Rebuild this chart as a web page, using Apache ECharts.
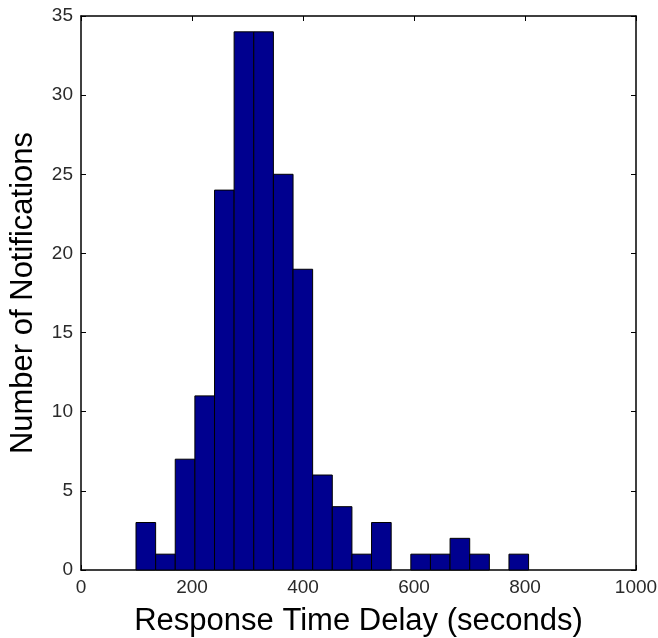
<!DOCTYPE html>
<html><head><meta charset="utf-8">
<script src="https://cdn.jsdelivr.net/npm/echarts@6/dist/echarts.min.js"></script>
<style>html,body{margin:0;padding:0;background:#fff}#c{width:658px;height:638px}</style>
</head><body><div id="c"></div>
<script>
// Histogram bins (seconds) and counts
var binStarts = [99.1,134.5,169.8,205.2,240.6,275.9,311.3,346.7,382.0,417.4,452.8,488.2,523.5,558.9,594.3,629.6,665.0,700.4,735.7,771.1];
var binWidth = 35.37;
var counts = [3,1,7,11,24,34,34,25,19,6,4,1,3,0,1,1,2,1,0,1];
var xTicks = [0,200,400,600,800,1000];
var yTicks = [0,5,10,15,20,25,30,35];

var data = binStarts.map(function(s,i){return [s, s+binWidth, counts[i]];});
var chart = echarts.init(document.getElementById('c'));
var labelFont = {fontFamily:'Liberation Sans, Arial, sans-serif', fontSize:19, color:'#2a2a2a'};
var titleFont = {fontFamily:'Liberation Sans, Arial, sans-serif', fontSize:31, color:'#000'};
chart.setOption({
  animation:false,
  grid:{left:81,right:22,top:16,bottom:68,containLabel:false,outerBoundsMode:'none'},
  xAxis:[{
    type:'value',min:0,max:1000,interval:200,position:'bottom',
    name:'Response Time Delay (seconds)',nameLocation:'middle',nameGap:36,
    nameTextStyle:titleFont,
    axisLine:{show:true,onZero:false,lineStyle:{color:'#000',width:1.5}},
    axisTick:{show:true,inside:true,length:5,lineStyle:{color:'#000'}},
    axisLabel:Object.assign({margin:8,formatter:function(v){return String(v);}},labelFont),
    splitLine:{show:false}
  },{
    type:'value',min:0,max:1000,interval:200,position:'top',
    axisLine:{show:true,onZero:false,lineStyle:{color:'#000',width:1.5}},
    axisTick:{show:true,inside:true,length:5,lineStyle:{color:'#000'}},
    axisLabel:{show:false},splitLine:{show:false}
  }],
  yAxis:[{
    type:'value',min:0,max:35,interval:5,position:'left',
    name:'Number of Notifications',nameLocation:'middle',nameGap:42,nameRotate:90,
    nameTextStyle:titleFont,
    axisLine:{show:true,onZero:false,lineStyle:{color:'#000',width:1.5}},
    axisTick:{show:true,inside:true,length:5,lineStyle:{color:'#000'}},
    axisLabel:Object.assign({margin:8},labelFont),
    splitLine:{show:false}
  },{
    type:'value',min:0,max:35,interval:5,position:'right',
    axisLine:{show:true,onZero:false,lineStyle:{color:'#000',width:1.5}},
    axisTick:{show:true,inside:true,length:5,lineStyle:{color:'#000'}},
    axisLabel:{show:false},splitLine:{show:false}
  }],
  series:[{
    type:'custom',
    xAxisIndex:0,yAxisIndex:0,
    encode:{x:[0,1],y:2},
    data:data,
    renderItem:function(params,api){
      if(api.value(2)<=0) return null;
      var p0 = api.coord([api.value(0), api.value(2)]);
      var p1 = api.coord([api.value(1), 0]);
      return {
        type:'rect',
        shape:{x:p0[0],y:p0[1],width:p1[0]-p0[0],height:p1[1]-p0[1]},
        style:{fill:'#00008F',stroke:'#000',lineWidth:1}
      };
    }
  }]
});
</script>
</body></html>
